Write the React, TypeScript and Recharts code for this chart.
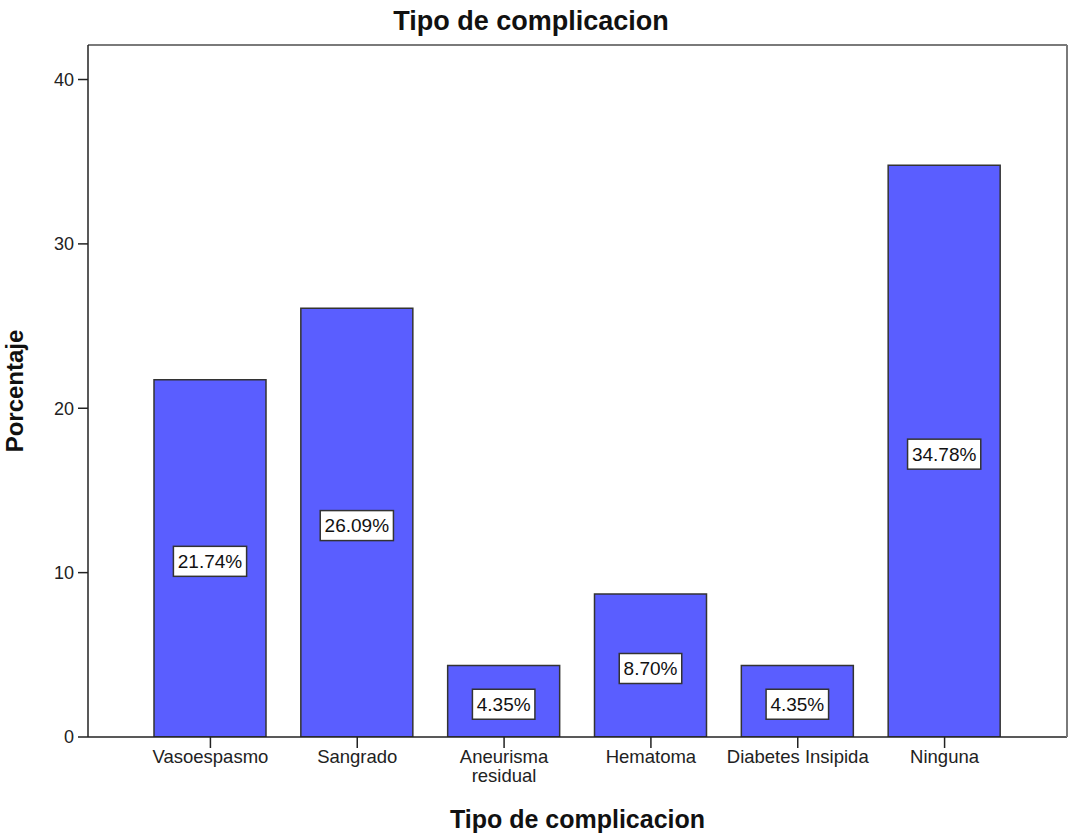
import React from "react";
import { BarChart, Bar, XAxis, YAxis, LabelList } from "recharts";

const categories = [
  "Vasoespasmo",
  "Sangrado",
  "Aneurisma residual",
  "Hematoma",
  "Diabetes Insipida",
  "Ninguna",
];
const tickLines: Record<string, string[]> = {
  "Aneurisma residual": ["Aneurisma", "residual"],
};
const percentages = [21.74, 26.09, 4.35, 8.7, 4.35, 34.78];
const yTicks = [0, 10, 20, 30, 40];

const data = categories.map((name, i) => ({ name, value: percentages[i] }));

const FONT = "'Liberation Sans', Arial, sans-serif";

// x tick: splits long names in two lines like SPSS does
const CategoryTick = (props: any) => {
  const { x, y, payload } = props;
  const lines = tickLines[payload.value] || [payload.value];
  return (
    <g>
      {lines.map((line: string, i: number) => (
        <text
          key={i}
          x={x}
          y={y + 13 + i * 19}
          textAnchor="middle"
          fontSize={18.5}
          fontFamily={FONT}
          fill="#222"
        >
          {line}
        </text>
      ))}
    </g>
  );
};

// white boxed value label in the middle of each bar
const BoxLabel = (props: any) => {
  const { x, y, width, height, value } = props;
  const cx = x + width / 2;
  const cy = y + height / 2 + 3;
  const text = `${Number(value).toFixed(2)}%`;
  const w = text.length * 10.7 + 9;
  return (
    <g>
      <rect
        x={cx - w / 2}
        y={cy - 15}
        width={w}
        height={30}
        fill="#fff"
        stroke="#333"
        strokeWidth={1.5}
      />
      <text
        x={cx}
        y={cy + 6.5}
        textAnchor="middle"
        fontSize={19}
        fontFamily={FONT}
        fill="#111"
      >
        {text}
      </text>
    </g>
  );
};

export default function App() {
  return (
    <div
      style={{
        position: "absolute",
        left: 0,
        top: 0,
        width: 1070,
        height: 836,
        background: "#fff",
        fontFamily: FONT,
      }}
    >
      <div
        style={{
          position: "absolute",
          top: 6,
          left: 0,
          width: 1062,
          textAlign: "center",
          fontSize: 27,
          fontWeight: "bold",
          color: "#111",
          zIndex: 2,
        }}
      >
        Tipo de complicacion
      </div>
      <BarChart
        width={1070}
        height={836}
        data={data}
        margin={{ top: 44, right: 2, left: 0, bottom: 0 }}
      >
        <XAxis
          dataKey="name"
          xAxisId="bottom"
          height={99}
          padding={{ left: 49, right: 49 }}
          axisLine={{ stroke: "#222", strokeWidth: 1.5 }}
          tickLine={{ stroke: "#222", strokeWidth: 1.5 }}
          tickSize={11}
          tick={<CategoryTick />}
          interval={0}
          label={{
            value: "Tipo de complicacion",
            position: "insideBottom",
            offset: 8,
            fontSize: 25,
            fontWeight: "bold",
            fill: "#111",
            fontFamily: FONT,
          }}
        />
        <XAxis
          dataKey="name"
          xAxisId="top"
          orientation="top"
          height={1}
          tick={false}
          tickLine={false}
          axisLine={{ stroke: "#7a7a7a", strokeWidth: 2 }}
        />
        <YAxis
          yAxisId="left"
          width={88}
          domain={[0, 42.1]}
          ticks={yTicks}
          allowDataOverflow
          axisLine={{ stroke: "#222", strokeWidth: 1.5 }}
          tickLine={{ stroke: "#222", strokeWidth: 1.5 }}
          tickSize={10}
          tickMargin={4}
          tick={{ fontSize: 18, fill: "#222", fontFamily: FONT }}
          label={{
            value: "Porcentaje",
            angle: -90,
            position: "insideLeft",
            offset: 14,
            style: { textAnchor: "middle" },
            fontSize: 24,
            fontWeight: "bold",
            fill: "#111",
            fontFamily: FONT,
          }}
        />
        <YAxis
          yAxisId="right"
          orientation="right"
          width={1}
          tick={false}
          tickLine={false}
          axisLine={{ stroke: "#7a7a7a", strokeWidth: 2 }}
        />
        <Bar
          dataKey="value"
          xAxisId="bottom"
          yAxisId="left"
          barSize={112}
          fill="#5a5eff"
          stroke="#333"
          strokeWidth={1.5}
          isAnimationActive={false}
        >
          <LabelList dataKey="value" content={<BoxLabel />} />
        </Bar>
      </BarChart>
    </div>
  );
}
